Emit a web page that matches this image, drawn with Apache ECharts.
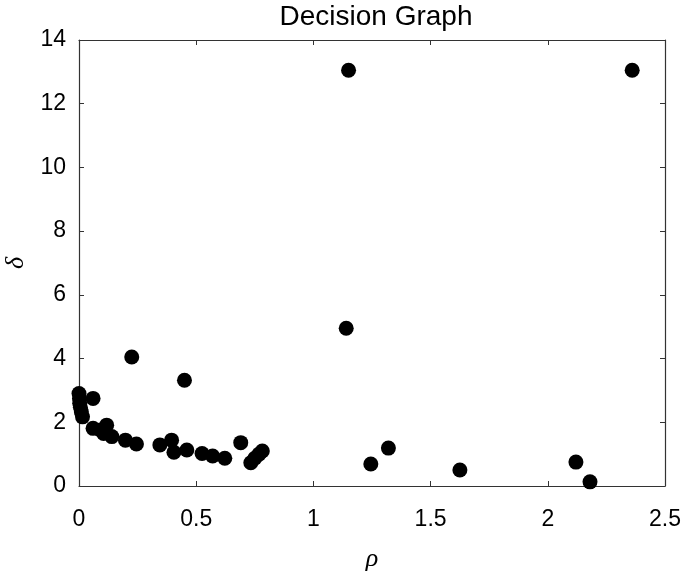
<!DOCTYPE html>
<html>
<head>
<meta charset="utf-8">
<script src="https://cdn.jsdelivr.net/npm/echarts@6/dist/echarts.min.js"></script>
<style>html,body{margin:0;padding:0;background:#fff;}#c{width:685px;height:573px;}</style>
</head>
<body>
<div id="c"></div>
<script>
const titleText = 'Decision Graph';
const xName = 'ρ';
const yName = 'δ';
const rho = [1.15, 2.36, 1.14, 0.225, 0.45, 1.245, 1.32, 1.625, 2.12, 2.18,
  0.0, 0.002, 0.003, 0.006, 0.01, 0.015, 0.06, 0.06, 0.092, 0.118, 0.105, 0.14, 0.198, 0.245,
  0.345, 0.395, 0.405, 0.46, 0.525, 0.57, 0.622, 0.69, 0.733, 0.75, 0.768, 0.782];
const delta = [13.05, 13.05, 4.95, 4.05, 3.32, 0.69, 1.19, 0.5, 0.75, 0.13,
  2.9, 2.75, 2.6, 2.47, 2.33, 2.17, 2.75, 1.81, 1.76, 1.91, 1.65, 1.55, 1.44, 1.32,
  1.29, 1.44, 1.06, 1.13, 1.02, 0.94, 0.87, 1.36, 0.73, 0.87, 1.0, 1.1];
const xTicks = [0, 0.5, 1, 1.5, 2, 2.5];
const yTicks = [0, 2, 4, 6, 8, 10, 12, 14];

const pts = rho.map((r, i) => [r, delta[i]]);
const axisColor = '#333';
const font = 'Liberation Sans, Arial, sans-serif';
const fmtX = v => String(+v.toFixed(1));

const chart = echarts.init(document.getElementById('c'));
chart.setOption({
  animation: false,
  backgroundColor: '#fff',
  title: {
    text: titleText, left: 371, top: -2, textAlign: 'center',
    textStyle: { fontFamily: font, fontSize: 28, fontWeight: 'normal', color: '#000' }
  },
  grid: { left: 79, right: 20, top: 40, bottom: 87, containLabel: false, outerBoundsMode: 'none' },
  xAxis: [{
    type: 'value', min: xTicks[0], max: xTicks[xTicks.length - 1], interval: 0.5,
    name: xName, nameLocation: 'middle', nameGap: 60,
    nameTextStyle: { fontFamily: 'Liberation Serif, serif', fontStyle: 'italic', fontSize: 26, color: '#000' },
    axisLine: { show: true, lineStyle: { color: axisColor, width: 1.2 } },
    axisTick: { show: true, inside: true, length: 5, lineStyle: { color: axisColor } },
    axisLabel: { fontFamily: font, fontSize: 23, color: '#000', margin: 22, formatter: fmtX },
    splitLine: { show: false }
  }, {
    type: 'value', position: 'top', min: xTicks[0], max: xTicks[xTicks.length - 1], interval: 0.5,
    axisLine: { show: true, onZero: false, lineStyle: { color: axisColor, width: 1.2 } },
    axisTick: { show: true, inside: true, length: 5, lineStyle: { color: axisColor } },
    axisLabel: { show: false }, splitLine: { show: false }
  }],
  yAxis: [{
    type: 'value', min: yTicks[0], max: yTicks[yTicks.length - 1], interval: 2,
    name: yName, nameLocation: 'middle', nameGap: 50, nameRotate: 90,
    nameTextStyle: { fontFamily: 'Liberation Serif, serif', fontStyle: 'italic', fontSize: 26, color: '#000' },
    axisLine: { show: true, lineStyle: { color: axisColor, width: 1.2 } },
    axisTick: { show: true, inside: true, length: 5, lineStyle: { color: axisColor } },
    axisLabel: { fontFamily: font, fontSize: 23, color: '#000', margin: 13 },
    splitLine: { show: false }
  }, {
    type: 'value', position: 'right', min: yTicks[0], max: yTicks[yTicks.length - 1], interval: 2,
    axisLine: { show: true, onZero: false, lineStyle: { color: axisColor, width: 1.2 } },
    axisTick: { show: true, inside: true, length: 5, lineStyle: { color: axisColor } },
    axisLabel: { show: false }, splitLine: { show: false }
  }],
  series: [{
    type: 'scatter', xAxisIndex: 0, yAxisIndex: 0, data: pts,
    symbol: 'circle', symbolSize: 15, clip: false,
    itemStyle: { color: '#000', opacity: 1 }
  }]
});
</script>
</body>
</html>
